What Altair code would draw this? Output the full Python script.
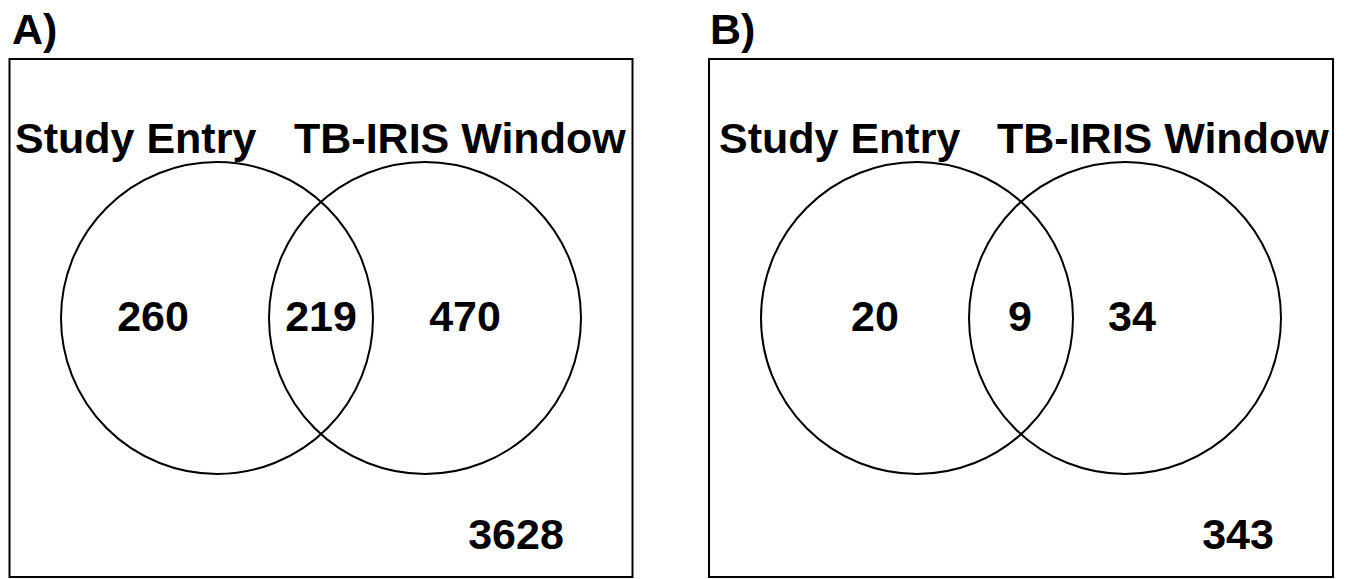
import altair as alt
import pandas as pd

# ---- data ----
panels = ["A)", "B)"]
set_labels = ["Study Entry", "TB-IRIS Window"]
only_entry = [260, 20]
both = [219, 9]
only_window = [470, 34]
neither = [3628, 343]

# ---- layout (page pixel coordinates) ----
W, H = 1334, 571
X0, Y0 = 8, 8
FONT = "Liberation Sans"
FS = 43
box_x = [(9.5, 632.5), (709, 1333)]
box_y = (59, 577)
circle_cx = [(217, 425), (917, 1125)]
circle_cy = 318
radius = 156
panel_lbl_xy = [(12, 44), (710, 44)]
set_lbl_x = [(15, 294), (719, 997)]
set_lbl_y = 153
num_x = [(153, 321, 465), (875, 1020, 1132)]
num_y = 331
out_x = [516, 1238]
out_y = 549

box_rows, circ_rows, txt_rows = [], [], []
for i, p in enumerate(panels):
    box_rows.append({"x": box_x[i][0], "x2": box_x[i][1], "y": box_y[0], "y2": box_y[1]})
    for j, s in enumerate(set_labels):
        circ_rows.append({"x": circle_cx[i][j], "y": circle_cy, "set": s, "panel": p})
        txt_rows.append({"t": s, "x": set_lbl_x[i][j], "y": set_lbl_y, "a": "left"})
    txt_rows.append({"t": p, "x": panel_lbl_xy[i][0], "y": panel_lbl_xy[i][1], "a": "left"})
    for k, v in enumerate([only_entry[i], both[i], only_window[i]]):
        txt_rows.append({"t": str(v), "x": num_x[i][k], "y": num_y, "a": "center"})
    txt_rows.append({"t": str(neither[i]), "x": out_x[i], "y": out_y, "a": "center"})

boxes = pd.DataFrame(box_rows)
circles = pd.DataFrame(circ_rows)
texts = pd.DataFrame(txt_rows)

xs = alt.Scale(domain=[X0, X0 + W], nice=False, zero=False)
ys = alt.Scale(domain=[Y0, Y0 + H], reverse=True, nice=False, zero=False)

box_layer = alt.Chart(boxes).mark_rect(
    stroke="black", strokeWidth=2, fillOpacity=0
).encode(
    x=alt.X("x:Q", scale=xs, axis=None),
    x2="x2:Q",
    y=alt.Y("y:Q", scale=ys, axis=None),
    y2="y2:Q",
)

circle_layer = alt.Chart(circles).mark_point(
    shape="circle", filled=False, stroke="black", strokeWidth=2,
    size=(2 * radius) ** 2, opacity=1
).encode(
    x=alt.X("x:Q", scale=xs, axis=None),
    y=alt.Y("y:Q", scale=ys, axis=None),
)

def text_layer(align):
    return alt.Chart(texts[texts["a"] == align]).mark_text(
        font=FONT, fontSize=FS, fontWeight="bold", color="black",
        align=align, baseline="alphabetic"
    ).encode(
        x=alt.X("x:Q", scale=xs, axis=None),
        y=alt.Y("y:Q", scale=ys, axis=None),
        text="t:N",
    )

chart = alt.layer(
    box_layer, circle_layer, text_layer("left"), text_layer("center")
).properties(
    width=W, height=H, padding=0, autosize=alt.AutoSizeParams(type="none"),
    background="white"
).configure_view(stroke=None)

chart.save("out.html", embed_options={"renderer": "svg", "actions": False})
